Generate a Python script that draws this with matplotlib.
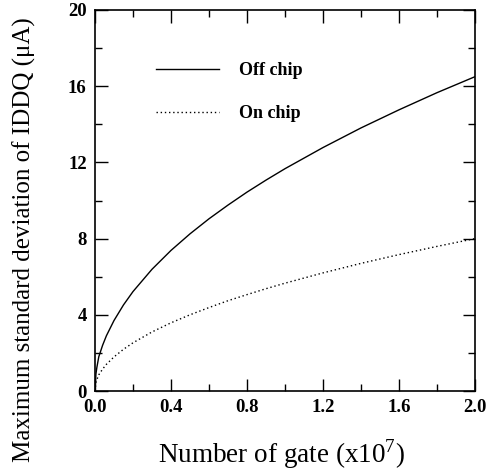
import matplotlib
matplotlib.use('Agg')
import matplotlib.pyplot as plt
from matplotlib.ticker import MultipleLocator

# valores
gates = [0, 0.005, 0.01, 0.02, 0.04, 0.06, 0.1, 0.15, 0.2, 0.3, 0.4, 0.5,
         0.6, 0.7, 0.8, 0.9, 1.0, 1.2, 1.4, 1.6, 1.8, 2.0]
off_chip = [0, 0.9, 1.25, 1.8, 2.4, 2.9, 3.7, 4.52, 5.22, 6.39, 7.38, 8.25,
            9.04, 9.76, 10.44, 11.07, 11.67, 12.78, 13.81, 14.76, 15.66, 16.5]
on_chip = [0, 0.45, 0.6, 0.85, 1.15, 1.4, 1.79, 2.19, 2.53, 3.10, 3.58, 4.00,
           4.38, 4.74, 5.06, 5.37, 5.66, 6.20, 6.70, 7.16, 7.59, 8.0]

plt.rcParams['font.family'] = ['Liberation Serif', 'DejaVu Serif']
plt.rcParams['mathtext.fontset'] = 'custom'
plt.rcParams['mathtext.rm'] = 'Liberation Serif'

fig = plt.figure(figsize=(4.88, 4.71), dpi=100)
ax = fig.add_axes([95 / 488, 1 - 391 / 471, 380 / 488, 381 / 471])

ax.plot(gates, off_chip, color='black', lw=1.0, label='Off chip')
ax.plot(gates, on_chip, color='black', lw=1.0, linestyle=(0, (1, 2)), label='On chip')

ax.set_xlim(0, 2.0)
ax.set_ylim(0, 20)
ax.xaxis.set_major_locator(MultipleLocator(0.4))
ax.xaxis.set_minor_locator(MultipleLocator(0.2))
ax.yaxis.set_major_locator(MultipleLocator(4))
ax.yaxis.set_minor_locator(MultipleLocator(2))
ax.set_xticklabels([f'{v:.1f}' for v in ax.get_xticks()])
ax.tick_params(which='both', direction='in', top=True, right=True, width=1)
ax.tick_params(which='major', length=9, pad=6, labelsize=13.5)
ax.tick_params(which='minor', length=5)
for lab in ax.get_xticklabels() + ax.get_yticklabels():
    lab.set_fontweight('bold')
for s in ax.spines.values():
    s.set_linewidth(1.2)

ax.set_xlabel('Number of gate (x10$^7$)', fontsize=19.5)
ax.set_ylabel('Maximum standard deviation of IDDQ (μA)', fontsize=18)
ax.xaxis.set_label_coords(0.49, -0.122)
ax.yaxis.set_label_coords(-0.155, 0.397)

leg = ax.legend(loc='upper left', bbox_to_anchor=(0.117, 0.905), frameon=False,
                handlelength=3.5, handletextpad=1.1, labelspacing=1.42,
                prop={'weight': 'bold', 'size': 13})

fig.savefig('out.png', dpi=100)
